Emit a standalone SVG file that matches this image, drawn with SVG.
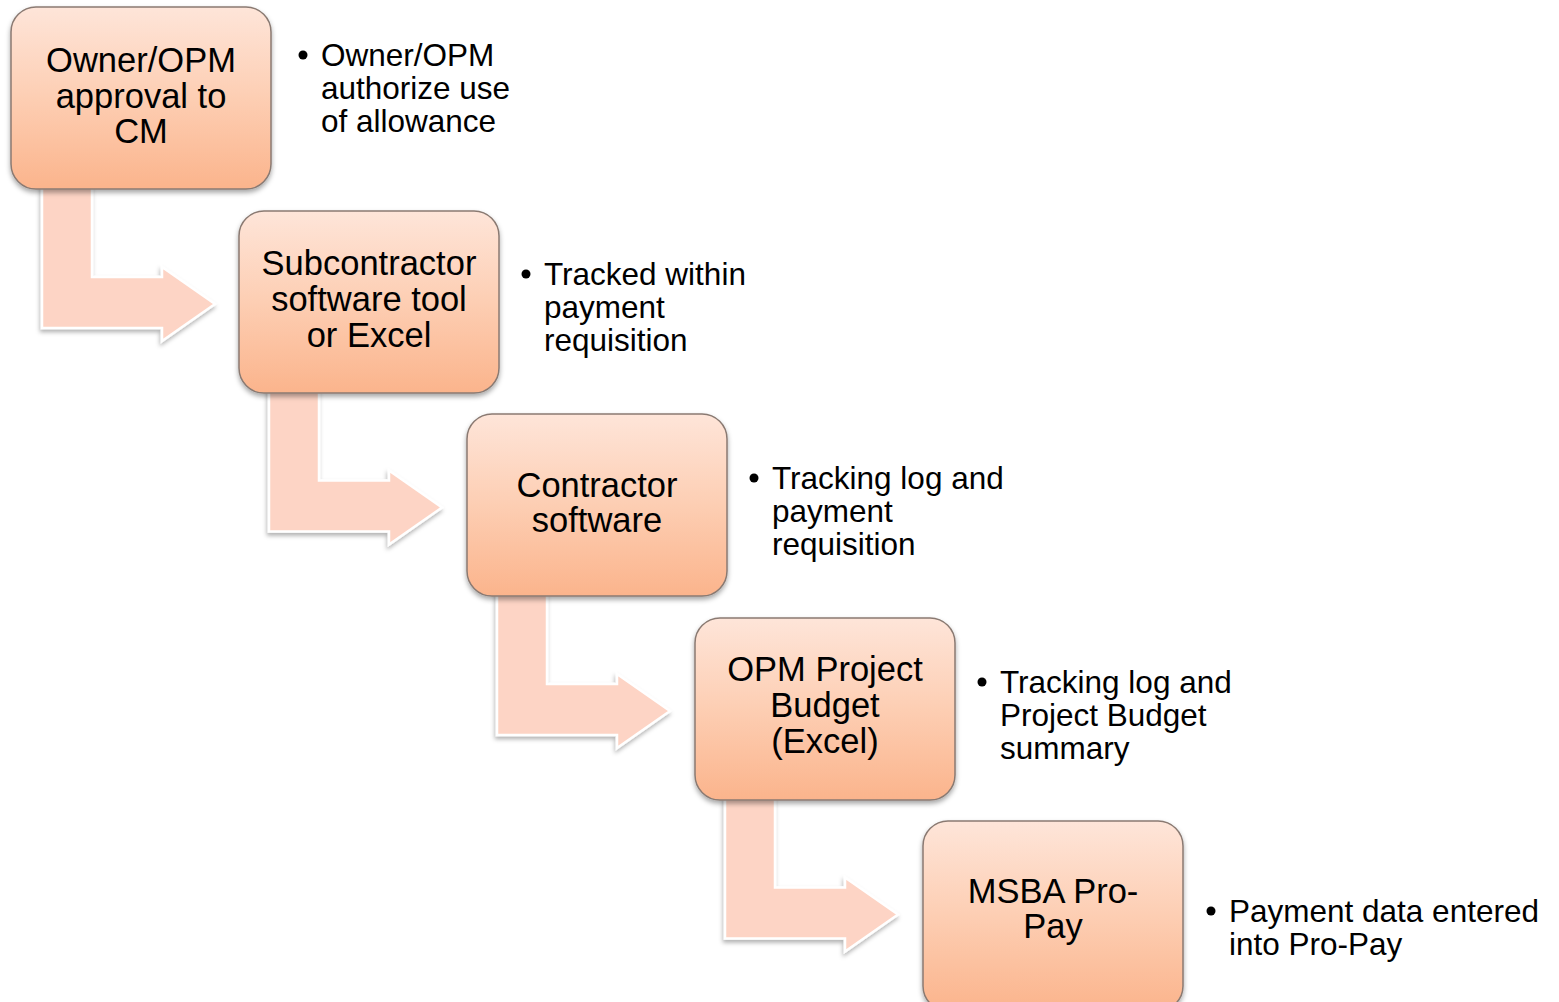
<svg xmlns="http://www.w3.org/2000/svg" width="1559" height="1002" viewBox="0 0 1559 1002">
<defs>
<linearGradient id="boxGrad" x1="0" y1="0" x2="0" y2="1">
<stop offset="0" stop-color="#fee5d9"/>
<stop offset="0.5" stop-color="#fdceb3"/>
<stop offset="1" stop-color="#fbb48c"/>
</linearGradient>
<filter id="shadow" x="-10%" y="-10%" width="120%" height="125%">
<feDropShadow dx="0" dy="3" stdDeviation="2.5" flood-color="#000" flood-opacity="0.35"/>
</filter>
<filter id="ashadow" x="-10%" y="-10%" width="120%" height="125%">
<feDropShadow dx="-1" dy="3" stdDeviation="2" flood-color="#000" flood-opacity="0.3"/>
</filter>
<path id="bend" d="M42,180 L92,180 L92,277 L162,277 L162,267 L215,304 L162,341 L162,328 L42,328 Z"/>
</defs>
<style>
.box{fill:url(#boxGrad);stroke:#8a7a72;stroke-width:1.5;filter:url(#shadow)}
.arrow{fill:#fdd4c5;stroke:#ffffff;stroke-width:2.5;filter:url(#ashadow)}
.lbl{font-family:"Liberation Sans",Arial,sans-serif;font-size:34.5px;fill:#000;text-anchor:middle}
.bul{font-family:"Liberation Sans",Arial,sans-serif;font-size:31.5px;fill:#000}
.dot{fill:#000}
</style>
<rect width="1559" height="1002" fill="#ffffff"/>
<g id="connectors">
<use href="#bend" class="arrow"/>
<use href="#bend" class="arrow" transform="translate(227,203.5)"/>
<use href="#bend" class="arrow" transform="translate(455,407)"/>
<use href="#bend" class="arrow" transform="translate(683,610.5)"/>
</g>
<g id="node1">
<rect class="box" x="11" y="7" width="260" height="182" rx="25"/>
<text class="lbl" x="141" y="72">Owner/OPM</text>
<text class="lbl" x="141" y="107.5">approval to</text>
<text class="lbl" x="141" y="143">CM</text>
</g>
<g id="node2">
<rect class="box" x="239" y="211" width="260" height="182" rx="25"/>
<text class="lbl" x="369" y="275">Subcontractor</text>
<text class="lbl" x="369" y="311">software tool</text>
<text class="lbl" x="369" y="347">or Excel</text>
</g>
<g id="node3">
<rect class="box" x="467" y="414" width="260" height="182" rx="25"/>
<text class="lbl" x="597" y="497">Contractor</text>
<text class="lbl" x="597" y="532">software</text>
</g>
<g id="node4">
<rect class="box" x="695" y="618" width="260" height="182" rx="25"/>
<text class="lbl" x="825" y="681">OPM Project</text>
<text class="lbl" x="825" y="717">Budget</text>
<text class="lbl" x="825" y="753">(Excel)</text>
</g>
<g id="node5">
<rect class="box" x="923" y="821" width="260" height="190" rx="25"/>
<text class="lbl" x="1053" y="903">MSBA Pro-</text>
<text class="lbl" x="1053" y="938">Pay</text>
</g>
<g id="note1">
<circle class="dot" cx="303" cy="55" r="4.5"/>
<text class="bul" x="321" y="66">Owner/OPM</text>
<text class="bul" x="321" y="99">authorize use</text>
<text class="bul" x="321" y="132">of allowance</text>
</g>
<g id="note2">
<circle class="dot" cx="526" cy="274" r="4.5"/>
<text class="bul" x="544" y="285">Tracked within</text>
<text class="bul" x="544" y="318">payment</text>
<text class="bul" x="544" y="351">requisition</text>
</g>
<g id="note3">
<circle class="dot" cx="754" cy="478" r="4.5"/>
<text class="bul" x="772" y="489">Tracking log and</text>
<text class="bul" x="772" y="522">payment</text>
<text class="bul" x="772" y="555">requisition</text>
</g>
<g id="note4">
<circle class="dot" cx="982" cy="682" r="4.5"/>
<text class="bul" x="1000" y="693">Tracking log and</text>
<text class="bul" x="1000" y="726">Project Budget</text>
<text class="bul" x="1000" y="759">summary</text>
</g>
<g id="note5">
<circle class="dot" cx="1211" cy="911" r="4.5"/>
<text class="bul" x="1229" y="922">Payment data entered</text>
<text class="bul" x="1229" y="955">into Pro-Pay</text>
</g>
</svg>
